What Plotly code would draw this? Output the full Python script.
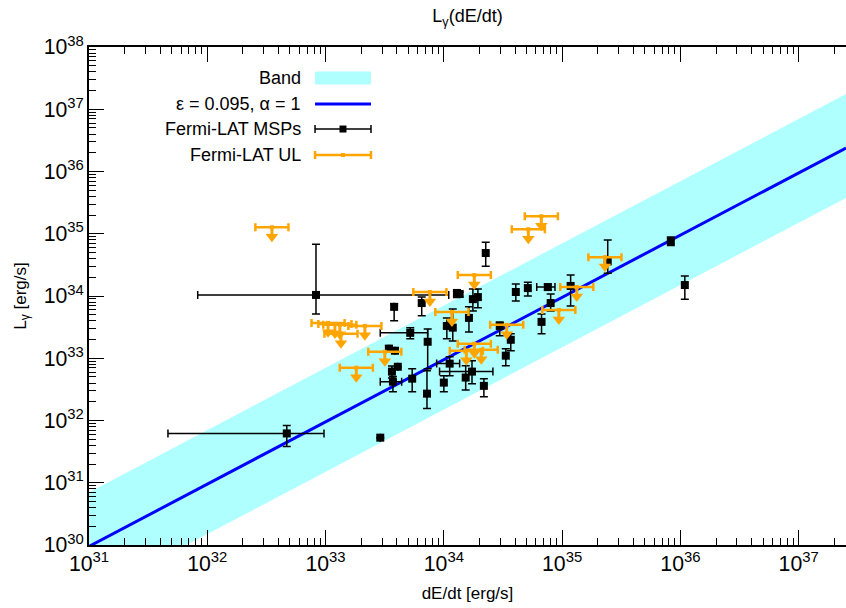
import plotly.graph_objects as go

# ---------------- data ----------------
# Fermi-LAT MSPs: spin-down power (erg/s), gamma luminosity (erg/s) and error bounds
msp_edot = [4.7e32, 8.3e32, 2.9e33, 3.8e33, 6.5e33, 5.2e33, 7.3e33, 3.43e33, 3.86e33, 4.08e33,
            3.64e33, 3.71e33, 5.4e33, 7.2e33, 1.0e34, 1.12e34, 1.06e34, 1.19e34, 1.29e34, 1.36e34,
            1.76e34, 1.94e34, 1.63e34, 2.26e34, 1.53e34, 1.73e34, 2.18e34, 2.97e34, 3.68e34, 3.34e34,
            4.06e34, 5.13e34, 7.57e34, 8.0e34, 6.7e34, 1.18e35, 2.43e35, 8.3e35, 1.09e36]
msp_lgam = [6.2e31, 1.04e34, 5.3e31, 6.7e33, 7.7e33, 2.56e33, 1.84e33, 1.42e33, 1.32e33, 7.3e32,
            6.1e32, 4.2e32, 4.7e32, 2.7e32, 4.06e32, 8.2e32, 3.3e33, 3.1e33, 1.12e34, 1.08e34,
            8.9e33, 9.6e33, 4.45e33, 4.9e34, 4.9e32, 6.1e32, 3.6e32, 3.3e33, 1.98e33, 1.1e33,
            1.16e34, 1.34e34, 1.39e34, 7.7e33, 3.84e33, 1.45e34, 3.6e34, 7.6e34, 1.5e34]
msp_edot_lo = [4.65e31, 8.3e31, None, None, None, 2.9e33, None, None, None, None,
               None, 2.9e33, None, None, None, 8.7e33, None, None, None, None,
               None, None, None, None, None, 9.2e33, None, None, None, None,
               None, None, 6.1e34, None, None, None, None, None, None]
msp_edot_hi = [9.7e32, 1.1e34, None, None, None, 7.3e33, None, None, None, None,
               None, 4.4e33, None, None, None, 1.36e34, None, None, None, None,
               None, None, None, None, None, 2.6e34, None, None, None, None,
               None, None, 8.7e34, None, None, None, None, None, None]
msp_lgam_lo = [3.84e31, 5.15e33, None, 4.0e33, 4.8e33, 2.05e33, 6.8e32, 1.25e33, 1.2e33, None,
               4.8e32, 2.9e32, 2.9e32, 1.56e32, 2.9e32, 5.25e32, 2.05e33, 1.9e33, 9.5e33, 9.6e33,
               5.75e33, 6.5e33, 2.65e33, 3.0e34, 3.1e32, 3.9e32, 2.4e32, 2.3e33, 1.32e33, 7.6e32,
               8.3e33, 1.0e34, 1.25e34, 5.75e33, 2.47e33, 6.9e33, 2.33e34, 6.5e34, 8.9e33]
msp_lgam_hi = [8.3e31, 6.8e34, None, 7.5e33, 9.6e33, 3.1e33, 2.96e33, 1.6e33, 1.45e33, None,
               7.5e32, 5.1e32, 6.8e32, 6.3e32, 5.25e32, 1.06e33, 4.45e33, 6.2e33, 1.2e34, 1.15e34,
               1.29e34, 1.29e34, 6.7e33, 7.3e34, 7.6e32, 9.1e32, 4.7e32, 3.84e33, 2.47e33, 1.42e33,
               1.56e34, 1.67e34, 1.55e34, 1.08e34, 5.15e33, 2.17e34, 7.9e34, 8.9e34, 2.09e34]

# Fermi-LAT upper limits
ul_edot = [3.52e32, 1.05e33, 1.2e33, 1.32e33, 1.35e33, 2.15e33, 1.82e33, 3.17e33, 7.62e33, 1.17e34,
           1.81e34, 3.4e34, 1.81e34, 1.55e34, 2.07e34, 9.38e34, 1.33e35, 5.18e34, 6.67e34, 2.3e35]
ul_lgam = [1.27e35, 3.7e33, 3.56e33, 3.44e33, 2.47e33, 3.31e33, 7.05e32, 1.27e33, 1.16e34, 5.55e33,
           2.17e34, 3.44e33, 1.71e33, 1.32e33, 1.37e33, 5.97e33, 1.39e34, 1.18e35, 1.91e35, 4.21e34]
ul_edot_factor = 1.38     # horizontal bar half-width (multiplicative)
ul_arrow_factor = 1.42    # arrow head offset below the limit (multiplicative)

# model line and band: L = eps * Edot^alpha
eps, alpha = 0.095, 1.0
band_eps_lo, band_eps_hi = 0.0150, 0.70
x_range_log = [31, 37.4]
y_range_log = [30, 38]

BAND = "#B0FFFF"
BLUE = "#0000FF"
ORANGE = "#FFA500"
FONT = "Liberation Sans, Arial, Helvetica, sans-serif"

# ---------------- derived arrays ----------------
xe = [10.0 ** x_range_log[0], 10.0 ** x_range_log[1]]
line_y = [eps * v ** alpha for v in xe]
band_lo = [band_eps_lo * v for v in xe]
band_hi = [band_eps_hi * v for v in xe]

def up(val, ref):
    return 0.0 if ref is None else ref - val

def dn(val, ref):
    return 0.0 if ref is None else val - ref

ex_p = [up(v, h) for v, h in zip(msp_edot, msp_edot_hi)]
ex_m = [dn(v, l) for v, l in zip(msp_edot, msp_edot_lo)]
ey_p = [up(v, h) for v, h in zip(msp_lgam, msp_lgam_hi)]
ey_m = [dn(v, l) for v, l in zip(msp_lgam, msp_lgam_lo)]

ul_ex_p = [v * (ul_edot_factor - 1) for v in ul_edot]
ul_ex_m = [v * (1 - 1 / ul_edot_factor) for v in ul_edot]
ul_arrow_y = [v / ul_arrow_factor for v in ul_lgam]
ul_stem = [v - a for v, a in zip(ul_lgam, ul_arrow_y)]

fig = go.Figure()

fig.add_trace(go.Scatter(x=xe, y=band_lo, mode="lines", line=dict(width=0, color=BAND),
                         showlegend=False, hoverinfo="skip"))
fig.add_trace(go.Scatter(x=xe, y=band_hi, mode="lines", line=dict(width=0, color=BAND),
                         fill="tonexty", fillcolor=BAND, name="Band", showlegend=False))
fig.add_trace(go.Scatter(x=xe, y=line_y, mode="lines", line=dict(width=3, color=BLUE),
                         name="ε = 0.095, α = 1", showlegend=False))

fig.add_trace(go.Scatter(
    x=msp_edot, y=msp_lgam, mode="markers", name="Fermi-LAT MSPs", showlegend=False,
    marker=dict(symbol="square", size=8, color="black"),
    error_x=dict(type="data", symmetric=False, array=ex_p, arrayminus=ex_m,
                 color="black", thickness=1.5, width=4),
    error_y=dict(type="data", symmetric=False, array=ey_p, arrayminus=ey_m,
                 color="black", thickness=1.5, width=4),
))

fig.add_trace(go.Scatter(
    x=ul_edot, y=ul_lgam, mode="markers", name="Fermi-LAT UL", showlegend=False,
    marker=dict(symbol="square", size=4, color=ORANGE),
    error_x=dict(type="data", symmetric=False, array=ul_ex_p, arrayminus=ul_ex_m,
                 color=ORANGE, thickness=2.5, width=4),
    error_y=dict(type="data", symmetric=False, array=[0.0] * len(ul_lgam), arrayminus=ul_stem,
                 color=ORANGE, thickness=3, width=0),
))
fig.add_trace(go.Scatter(
    x=ul_edot, y=ul_arrow_y, mode="markers", showlegend=False, hoverinfo="skip",
    marker=dict(symbol="triangle-down", size=11, color=ORANGE, line=dict(width=0)),
))

# ---------------- custom legend (gnuplot style: text then sample) ----------------
W, H = 757.0, 498.0
tx = 0.2827
sx0, sx1, sxc = 0.2986, 0.3725, 0.3355
rows = [0.9378, 0.8855, 0.8353, 0.7831]
labels = ["Band", "ε = 0.095, α = 1", "Fermi-LAT MSPs", "Fermi-LAT UL"]
shapes = []
annotations = []
for r, lab in zip(rows, labels):
    annotations.append(dict(x=tx, y=r, xref="paper", yref="paper", text=lab, showarrow=False,
                            xanchor="right", yanchor="middle", font=dict(size=18, color="black")))
shapes.append(dict(type="rect", xref="paper", yref="paper", x0=sx0, x1=sx1,
                   y0=rows[0] - 6.5 / H, y1=rows[0] + 6.5 / H, fillcolor=BAND, line=dict(width=0)))
shapes.append(dict(type="line", xref="paper", yref="paper", x0=sx0, x1=sx1,
                   y0=rows[1], y1=rows[1], line=dict(color=BLUE, width=3)))
for r, col, lw, ms in [(rows[2], "black", 1.5, 3.5), (rows[3], ORANGE, 2.5, 2)]:
    shapes.append(dict(type="line", xref="paper", yref="paper", x0=sx0, x1=sx1, y0=r, y1=r,
                       line=dict(color=col, width=lw)))
    for xx in (sx0, sx1):
        shapes.append(dict(type="line", xref="paper", yref="paper", x0=xx, x1=xx,
                           y0=r - 4 / H, y1=r + 4 / H, line=dict(color=col, width=lw)))
    shapes.append(dict(type="rect", xref="paper", yref="paper", x0=sxc - ms / W, x1=sxc + ms / W,
                       y0=r - ms / H, y1=r + ms / H, fillcolor=col, line=dict(width=0)))

axis_common = dict(
    type="log", dtick=1, exponentformat="power", showgrid=False, zeroline=False,
    ticks="inside", ticklen=15, tickwidth=1, tickcolor="black",
    showline=True, linecolor="black", linewidth=1.5, automargin=False,
    tickfont=dict(size=17, color="black"),
    minor=dict(ticks="inside", ticklen=7, tickwidth=1, tickcolor="black", showgrid=False, dtick="D1"),
)

fig.update_layout(
    width=846, height=608,
    margin=dict(l=89, r=0, t=47, b=63, autoexpand=False),
    paper_bgcolor="white", plot_bgcolor="white",
    font=dict(family=FONT, size=17, color="black"),
    title=dict(text="L<sub>γ</sub>(dE/dt)", x=0.5, xref="paper", xanchor="center",
               y=1 - 16 / 608, yref="container", yanchor="middle", font=dict(size=18),
               automargin=False),
    xaxis=dict(range=x_range_log, mirror="allticks",
               title=dict(text="dE/dt [erg/s]", standoff=12, font=dict(size=17)), **axis_common),
    yaxis=dict(range=y_range_log, mirror=False,
               title=dict(text="L<sub>γ</sub> [erg/s]", standoff=13, font=dict(size=17)), **axis_common),
    shapes=shapes, annotations=annotations, showlegend=False,
)

fig.write_html("out.html", config={"displayModeBar": False},
               post_script="document.body.style.margin='0';document.body.style.overflow='hidden';")
